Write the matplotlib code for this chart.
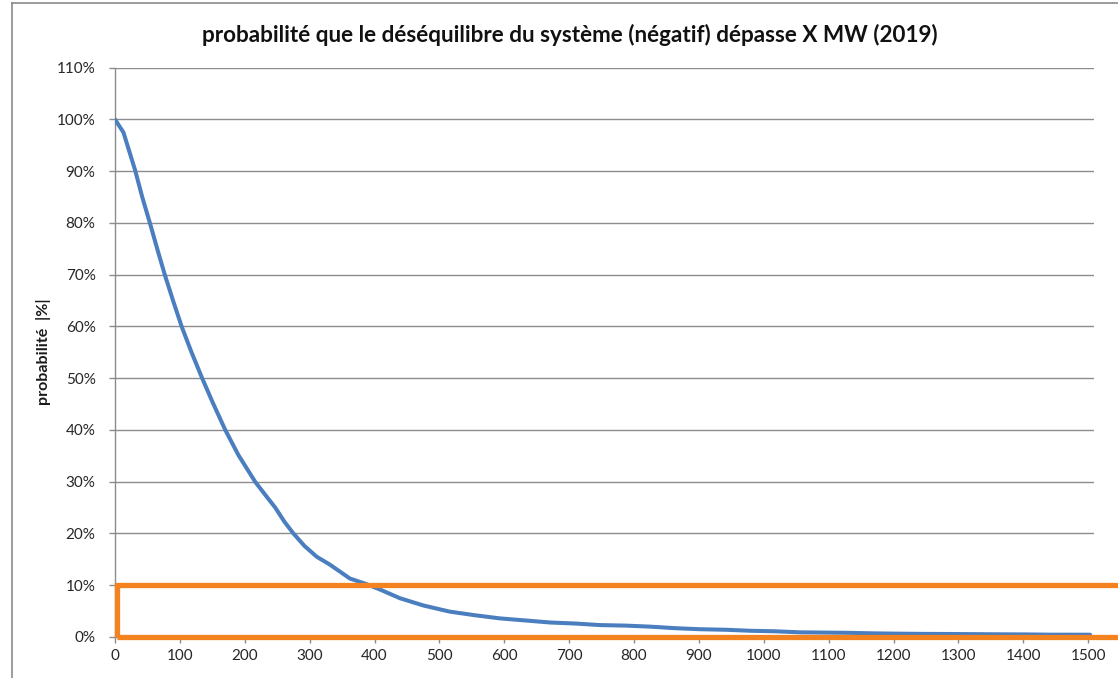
import matplotlib
matplotlib.use("Agg")
import matplotlib.pyplot as plt
from matplotlib.patches import Rectangle
from matplotlib.lines import Line2D
from matplotlib.ticker import FuncFormatter

plt.rcParams['font.family'] = ['Lato', 'DejaVu Sans']

# data
mw = [0, 13, 31, 42, 54, 66, 77, 90, 103, 118, 134, 151, 170, 190, 216, 232, 247,
      261, 275, 292, 311, 331, 346, 362, 388, 408, 439, 475, 516, 555, 593, 632,
      671, 710, 748, 787, 825, 864, 902, 941, 980, 1018, 1056, 1095, 1133, 1172,
      1210, 1249, 1287, 1326, 1364, 1402, 1440, 1503]
prob = [100, 97.5, 90.2, 85.0, 79.9, 74.6, 69.9, 64.8, 59.9, 55.0, 50.1, 45.2,
        40, 35.2, 30, 27.4, 25, 22.3, 20, 17.6, 15.5, 14, 12.7, 11.3, 10.2, 9.2,
        7.5, 6.1, 4.9, 4.2, 3.6, 3.2, 2.8, 2.6, 2.3, 2.2, 2.0, 1.7, 1.5, 1.4, 1.2,
        1.1, 0.9, 0.85, 0.8, 0.7, 0.64, 0.6, 0.58, 0.55, 0.52, 0.5, 0.45, 0.44]
x_ticks = list(range(0, 1501, 100))
y_ticks = list(range(0, 111, 10))
highlight_threshold = 10

title = "probabilité que le déséquilibre du système (négatif) dépasse X MW (2019)"
ylabel = "probabilité  |%|"

W, H = 1118, 678
fig = plt.figure(figsize=(W / 100, H / 100), dpi=100)

ax = fig.add_axes([115 / W, 1 - 637 / H, (1094 - 115) / W, (637 - 67.7) / H])
ax.set_xlim(0, 1509)
ax.set_ylim(0, 110)

grid_c = '#8c8c8c'
for yv in y_ticks[1:]:
    ax.axhline(yv, color=grid_c, lw=1.0, zorder=1)

ax.plot(mw, prob, color='#4A7EBF', lw=2.9, solid_joinstyle='round',
        solid_capstyle='round', zorder=3)

ax.add_patch(Rectangle((3, 0), 2000, highlight_threshold, fill=False,
                       edgecolor='#F4831F', lw=3.8, clip_on=False, zorder=4))

for s in ['top', 'right']:
    ax.spines[s].set_visible(False)
for s in ['left', 'bottom']:
    ax.spines[s].set_color(grid_c)
    ax.spines[s].set_linewidth(1.0)

ax.set_xticks(x_ticks)
ax.set_yticks(y_ticks)
ax.yaxis.set_major_formatter(FuncFormatter(lambda v, p: f"{int(v)}%"))
ax.tick_params(axis='both', colors=grid_c, length=4, width=1, labelcolor='#262626',
               labelsize=11)
ax.tick_params(axis='y', pad=10)
ax.tick_params(axis='x', pad=5)

ax.set_ylabel(ylabel, fontsize=11.5, fontweight='bold', color='#1a1a1a', labelpad=8)
ax.yaxis.set_label_coords((51 - 115) / (1094 - 115), (637 - 352) / (637 - 67.7))

fig.text(570 / W, 1 - 35 / H, title, ha='center', va='center', fontsize=16.2,
         fontweight='bold', color='#111111')

# outer chart border
fig.add_artist(Line2D([12 / W, 12 / W], [0, 1 - 3 / H], transform=fig.transFigure,
                      color='#8a8a8a', lw=1.2))
fig.add_artist(Line2D([12 / W, 1], [1 - 3 / H, 1 - 3 / H], transform=fig.transFigure,
                      color='#8a8a8a', lw=1.2))

fig.savefig("out.png", dpi=100)
